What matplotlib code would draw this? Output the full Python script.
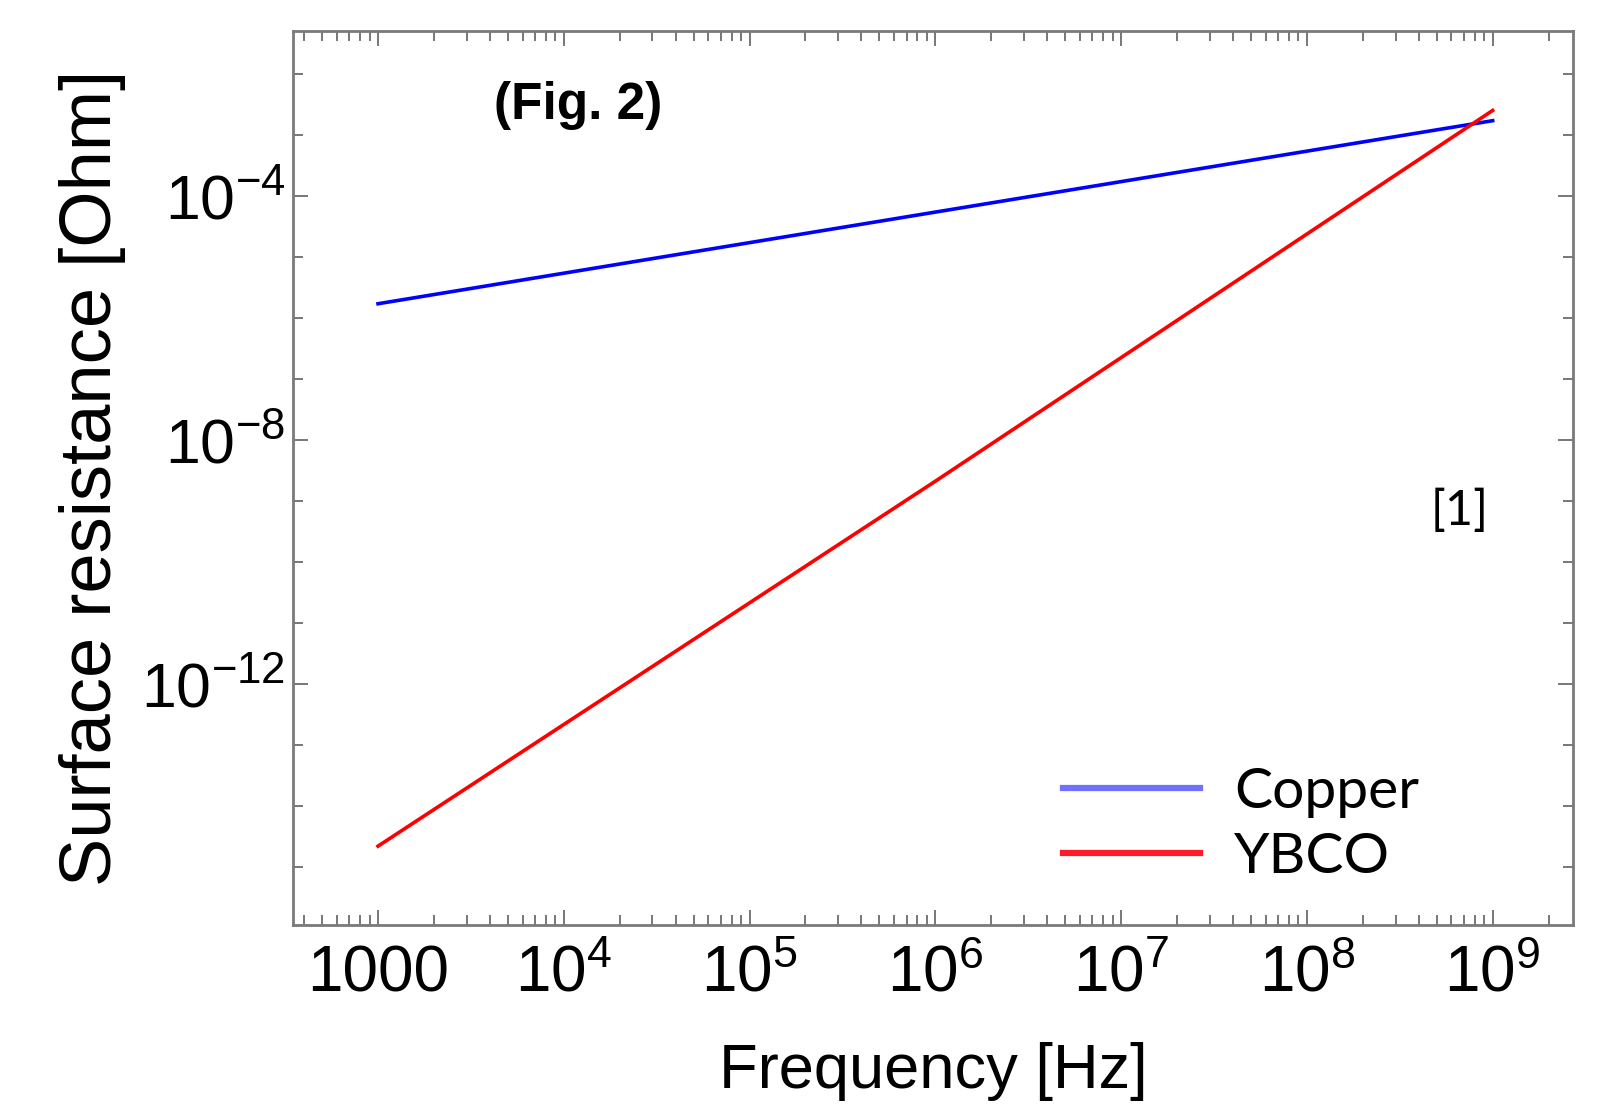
import matplotlib
matplotlib.use("Agg")
import matplotlib.pyplot as plt
from matplotlib.lines import Line2D
from matplotlib.ticker import LogLocator, FixedLocator, NullFormatter

# werte (log-log, gerade linien)
freq = [1e3, 1e6, 1e9]
copper = [1.7e-6, 5.4e-5, 1.7e-3]
ybco = [2.2e-15, 2.1e-9, 2.5e-3]

x_ticks = [1e3, 1e4, 1e5, 1e6, 1e7, 1e8, 1e9]
x_labels = ["1000", "$10^{4}$", "$10^{5}$", "$10^{6}$", "$10^{7}$", "$10^{8}$", "$10^{9}$"]
y_ticks = [1e-12, 1e-8, 1e-4]
y_labels = ["$10^{-12}$", "$10^{-8}$", "$10^{-4}$"]

plt.rcParams["font.family"] = ["Liberation Sans", "DejaVu Sans"]
plt.rcParams["mathtext.fontset"] = "custom"
plt.rcParams["mathtext.rm"] = "Liberation Sans"
plt.rcParams["mathtext.it"] = "Liberation Sans"
plt.rcParams["mathtext.bf"] = "Liberation Sans:bold"

fig = plt.figure(figsize=(16.15, 11.07), dpi=100)
ax = fig.add_axes([293.5 / 1615, 1 - 925 / 1107, 1279.5 / 1615, 894 / 1107])

ax.plot(freq, copper, color="#0000ff", lw=2.6)
ax.plot(freq, ybco, color="#ff0000", lw=2.6)

ax.set_xscale("log")
ax.set_yscale("log")
ax.set_xlim(10**2.545, 10**9.4325)
ax.set_ylim(10**-15.95, 10**-1.30)

ax.xaxis.set_major_locator(FixedLocator(x_ticks))
ax.set_xticklabels(x_labels)
ax.xaxis.set_minor_locator(LogLocator(base=10, subs=range(2, 10), numticks=50))
ax.xaxis.set_minor_formatter(NullFormatter())
ax.yaxis.set_major_locator(FixedLocator(y_ticks))
ax.set_yticklabels(y_labels)
ax.yaxis.set_minor_locator(LogLocator(base=10, subs=[1.0], numticks=50))
ax.yaxis.set_minor_formatter(NullFormatter())

tick_col = "#606060"
ax.tick_params(which="both", direction="in", top=True, right=True, color=tick_col, width=1.2)
ax.tick_params(which="major", length=11)
ax.tick_params(which="minor", length=7)
ax.tick_params(axis="x", which="major", labelsize=46, pad=14)
ax.tick_params(axis="y", which="major", labelsize=45, pad=6)
for s in ax.spines.values():
    s.set_color("#7a7a7a")
    s.set_linewidth(2)

ax.set_xlabel("Frequency [Hz]", fontsize=45.5)
ax.xaxis.set_label_coords(0.5, -0.131)
ax.xaxis.label.set_va("top")
ax.set_ylabel("Surface resistance [Ohm]", fontsize=52)
ax.yaxis.set_label_coords(-0.131, 0.5)

fig.text(578 / 1615, 1 - 106 / 1107, "(Fig. 2)", fontsize=37, fontweight="bold",
         ha="center", va="center")
fig.text(1460 / 1615, 1 - 511 / 1107, "[1]", fontsize=35, family=["Lato", "DejaVu Sans"],
         ha="center", va="center")

handles = [Line2D([], [], color="#7070ff", lw=4.5), Line2D([], [], color="#ff1a2a", lw=4.5)]
ax.legend(handles, ["Copper", "YBCO"], loc="center left",
          bbox_to_anchor=(1063 / 1615, 1 - 825 / 1107), bbox_transform=fig.transFigure,
          frameon=False, borderpad=0, borderaxespad=0, handlelength=2.4,
          handletextpad=0.6, labelspacing=0.25,
          prop={"family": ["Lato", "DejaVu Sans"], "size": 41})

fig.savefig("out.png", dpi=100)
